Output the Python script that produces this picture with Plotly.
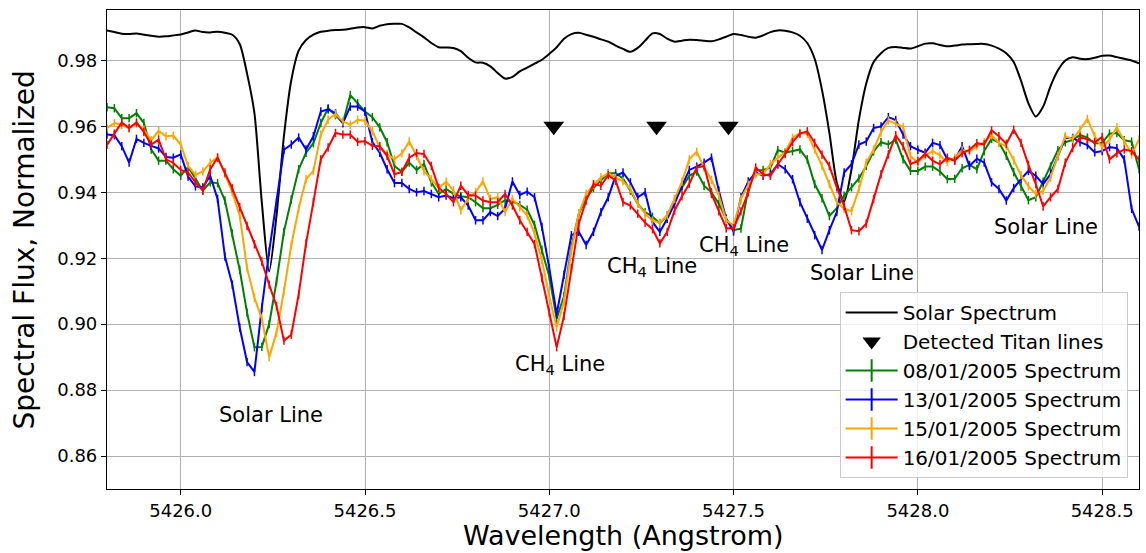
import numpy as np
import plotly.graph_objects as go

# Common wavelength sampling of all spectra (Angstrom)
WAVE_START = 5425.80
WAVE_STEP = 0.02

solar_flux = [
    0.9891, 0.9886, 0.9881, 0.9880, 0.9882, 0.9878, 0.9875, 0.9872, 0.9873, 0.9876,
    0.9879, 0.9885, 0.9891, 0.9886, 0.9885, 0.9887, 0.9884, 0.9878, 0.9850, 0.9760,
    0.9640, 0.9370, 0.9160, 0.9330, 0.9570, 0.9740, 0.9830, 0.9862, 0.9878, 0.9887,
    0.9890, 0.9892, 0.9893, 0.9896, 0.9900, 0.9901, 0.9897, 0.9905, 0.9910, 0.9911,
    0.9911, 0.9900, 0.9885, 0.9870, 0.9853, 0.9840, 0.9839, 0.9838, 0.9828, 0.9808,
    0.9794, 0.9793, 0.9782, 0.9762, 0.9745, 0.9750, 0.9767, 0.9778, 0.9790, 0.9802,
    0.9820, 0.9840, 0.9866, 0.9880, 0.9884, 0.9878, 0.9872, 0.9864, 0.9857, 0.9845,
    0.9835, 0.9826, 0.9838, 0.9860, 0.9882, 0.9880, 0.9866, 0.9857, 0.9860, 0.9863,
    0.9862, 0.9860, 0.9858, 0.9864, 0.9872, 0.9880, 0.9877, 0.9872, 0.9869, 0.9876,
    0.9886, 0.9891, 0.9890, 0.9885, 0.9875, 0.9853, 0.9805, 0.9710, 0.9580, 0.9430,
    0.9372, 0.9470, 0.9620, 0.9730, 0.9795, 0.9822, 0.9838, 0.9841, 0.9838, 0.9836,
    0.9843, 0.9851, 0.9852, 0.9847, 0.9843, 0.9845, 0.9848, 0.9849, 0.9850, 0.9850,
    0.9845, 0.9836, 0.9822, 0.9795, 0.9738, 0.9670, 0.9630, 0.9660, 0.9722, 0.9770,
    0.9800, 0.9810, 0.9805, 0.9804, 0.9808, 0.9814, 0.9815, 0.9810, 0.9805, 0.9800,
    0.9791,
]

flux_2005_01_08 = [
    0.9658, 0.9655, 0.9625, 0.9625, 0.9640, 0.9610, 0.9530, 0.9496, 0.9496, 0.9470,
    0.9450, 0.9477, 0.9442, 0.9405, 0.9430, 0.9428, 0.9375, 0.9275, 0.9165, 0.9035,
    0.8930, 0.8931, 0.9000, 0.9130, 0.9280, 0.9378, 0.9470, 0.9520, 0.9549, 0.9610,
    0.9655, 0.9634, 0.9610, 0.9695, 0.9670, 0.9645, 0.9628, 0.9597, 0.9552, 0.9480,
    0.9462, 0.9490, 0.9468, 0.9486, 0.9430, 0.9395, 0.9410, 0.9395, 0.9388, 0.9385,
    0.9370, 0.9352, 0.9352, 0.9362, 0.9376, 0.9372, 0.9362, 0.9347, 0.9301, 0.9225,
    0.9145, 0.9017, 0.9085, 0.9235, 0.9335, 0.9382, 0.9413, 0.9436, 0.9458, 0.9458,
    0.9442, 0.9405, 0.9365, 0.9340, 0.9326, 0.9306, 0.9330, 0.9378, 0.9412, 0.9450,
    0.9463, 0.9420, 0.9400, 0.9365, 0.9320, 0.9285, 0.9290, 0.9410, 0.9466, 0.9468,
    0.9475, 0.9528, 0.9520, 0.9525, 0.9530, 0.9500, 0.9425, 0.9382, 0.9328, 0.9352,
    0.9390, 0.9415, 0.9442, 0.9480, 0.9524, 0.9552, 0.9545, 0.9560, 0.9500, 0.9465,
    0.9465, 0.9478, 0.9478, 0.9463, 0.9440, 0.9441, 0.9473, 0.9483, 0.9470, 0.9525,
    0.9562, 0.9551, 0.9511, 0.9461, 0.9416, 0.9376, 0.9385, 0.9432, 0.9478, 0.9528,
    0.9552, 0.9559, 0.9574, 0.9566, 0.9548, 0.9550, 0.9578, 0.9580, 0.9558, 0.9554,
    0.9470,
]

flux_2005_01_13 = [
    0.9575, 0.9573, 0.9540, 0.9490, 0.9562, 0.9550, 0.9541, 0.9533, 0.9507, 0.9505,
    0.9515, 0.9448, 0.9418, 0.9415, 0.9450, 0.9380, 0.9205, 0.9120, 0.8990, 0.8885,
    0.8855, 0.9050, 0.9220, 0.9370, 0.9529, 0.9545, 0.9566, 0.9530, 0.9570, 0.9645,
    0.9652, 0.9640, 0.9610, 0.9660, 0.9660, 0.9645, 0.9552, 0.9520, 0.9470, 0.9428,
    0.9428, 0.9410, 0.9400, 0.9404, 0.9395, 0.9385, 0.9390, 0.9382, 0.9385, 0.9360,
    0.9315, 0.9315, 0.9340, 0.9328, 0.9350, 0.9433, 0.9392, 0.9402, 0.9385, 0.9295,
    0.9170, 0.9030, 0.9150, 0.9270, 0.9280, 0.9240, 0.9280, 0.9340, 0.9385, 0.9450,
    0.9460, 0.9430, 0.9385, 0.9400, 0.9310, 0.9280, 0.9320, 0.9365, 0.9420, 0.9468,
    0.9478, 0.9490, 0.9505, 0.9405, 0.9320, 0.9281, 0.9385, 0.9433, 0.9460, 0.9450,
    0.9455, 0.9485, 0.9470, 0.9440, 0.9370, 0.9320, 0.9270, 0.9225, 0.9285, 0.9340,
    0.9460, 0.9485, 0.9545, 0.9554, 0.9595, 0.9600, 0.9628, 0.9619, 0.9575, 0.9540,
    0.9529, 0.9520, 0.9550, 0.9543, 0.9500, 0.9497, 0.9540, 0.9480, 0.9502, 0.9490,
    0.9430, 0.9410, 0.9375, 0.9413, 0.9440, 0.9465, 0.9450, 0.9425, 0.9455, 0.9510,
    0.9565, 0.9565, 0.9552, 0.9543, 0.9521, 0.9525, 0.9537, 0.9534, 0.9500, 0.9350,
    0.9296,
]

flux_2005_01_15 = [
    0.9595, 0.9610, 0.9605, 0.9595, 0.9608, 0.9590, 0.9558, 0.9586, 0.9570, 0.9572,
    0.9545, 0.9480, 0.9453, 0.9463, 0.9490, 0.9506, 0.9455, 0.9400, 0.9330, 0.9170,
    0.9080, 0.9017, 0.8900, 0.8975, 0.9100, 0.9240, 0.9350, 0.9440, 0.9465, 0.9575,
    0.9620, 0.9638, 0.9615, 0.9605, 0.9620, 0.9617, 0.9585, 0.9536, 0.9516, 0.9500,
    0.9518, 0.9554, 0.9510, 0.9464, 0.9440, 0.9413, 0.9432, 0.9405, 0.9345, 0.9382,
    0.9400, 0.9433, 0.9380, 0.9385, 0.9340, 0.9380, 0.9355, 0.9330, 0.9275, 0.9195,
    0.9085, 0.8990, 0.9070, 0.9225, 0.9335, 0.9395, 0.9423, 0.9445, 0.9457, 0.9444,
    0.9433, 0.9410, 0.9365, 0.9335, 0.9314, 0.9308, 0.9330, 0.9380, 0.9432, 0.9500,
    0.9523, 0.9475, 0.9438, 0.9390, 0.9315, 0.9300, 0.9380, 0.9423, 0.9455, 0.9455,
    0.9485, 0.9505, 0.9522, 0.9565, 0.9580, 0.9578, 0.9530, 0.9480, 0.9425, 0.9370,
    0.9350, 0.9343, 0.9410, 0.9490, 0.9530, 0.9582, 0.9618, 0.9608, 0.9598, 0.9510,
    0.9490, 0.9512, 0.9525, 0.9512, 0.9492, 0.9505, 0.9528, 0.9524, 0.9540, 0.9552,
    0.9573, 0.9550, 0.9540, 0.9497, 0.9452, 0.9418, 0.9395, 0.9405, 0.9445, 0.9510,
    0.9570, 0.9562, 0.9590, 0.9623, 0.9570, 0.9536, 0.9560, 0.9597, 0.9555, 0.9515,
    0.9560,
]

flux_2005_01_16 = [
    0.9544, 0.9578, 0.9612, 0.9595, 0.9612, 0.9583, 0.9545, 0.9560, 0.9500, 0.9489,
    0.9468, 0.9460, 0.9430, 0.9405, 0.9470, 0.9505, 0.9460, 0.9412, 0.9355, 0.9298,
    0.9242, 0.9190, 0.9120, 0.9055, 0.8950, 0.8968, 0.9090, 0.9245, 0.9370, 0.9500,
    0.9536, 0.9580, 0.9575, 0.9575, 0.9553, 0.9555, 0.9541, 0.9540, 0.9510, 0.9455,
    0.9462, 0.9505, 0.9519, 0.9516, 0.9480, 0.9413, 0.9395, 0.9370, 0.9420, 0.9392,
    0.9390, 0.9375, 0.9370, 0.9370, 0.9395, 0.9360, 0.9315, 0.9280, 0.9243, 0.9140,
    0.9035, 0.8930, 0.9025, 0.9170, 0.9305, 0.9375, 0.9425, 0.9420, 0.9452, 0.9435,
    0.9370, 0.9360, 0.9335, 0.9308, 0.9288, 0.9245, 0.9280, 0.9345, 0.9388, 0.9426,
    0.9475, 0.9480, 0.9395, 0.9342, 0.9291, 0.9291, 0.9342, 0.9400, 0.9475, 0.9455,
    0.9450, 0.9485, 0.9516, 0.9552, 0.9578, 0.9585, 0.9550, 0.9514, 0.9480, 0.9415,
    0.9358, 0.9285, 0.9282, 0.9305, 0.9380, 0.9455, 0.9515, 0.9573, 0.9540, 0.9485,
    0.9495, 0.9517, 0.9496, 0.9485, 0.9505, 0.9496, 0.9518, 0.9529, 0.9549, 0.9545,
    0.9588, 0.9570, 0.9547, 0.9590, 0.9550, 0.9483, 0.9425, 0.9357, 0.9385, 0.9410,
    0.9490, 0.9534, 0.9568, 0.9560, 0.9552, 0.9568, 0.9500, 0.9518, 0.9530, 0.9525,
    0.9499,
]

spectrum_names = ["08/01/2005 Spectrum", "13/01/2005 Spectrum",
                  "15/01/2005 Spectrum", "16/01/2005 Spectrum"]
spectrum_colors = ["#008000", "#0000ff", "#ffa500", "#ff0000"]

# Detected Titan CH4 lines
titan_wavelengths = [5427.012, 5427.291, 5427.486]
titan_marker_flux = [0.96, 0.96, 0.96]

# Line identifications written on the plot
label_texts = ["Solar Line", "CH<sub>4</sub> Line", "CH<sub>4</sub> Line",
               "CH<sub>4</sub> Line", "Solar Line", "Solar Line"]
label_wavelengths = [5426.245, 5427.028, 5427.279, 5427.529, 5427.848, 5428.349]
label_flux = [0.8723, 0.8876, 0.9174, 0.9236, 0.9154, 0.9294]

x_ticks = [5426.0, 5426.5, 5427.0, 5427.5, 5428.0, 5428.5]
y_ticks = [0.86, 0.88, 0.90, 0.92, 0.94, 0.96, 0.98]

wavelength = np.round(WAVE_START + WAVE_STEP * np.arange(len(solar_flux)), 2)
spectra = [flux_2005_01_08, flux_2005_01_13, flux_2005_01_15, flux_2005_01_16]

FONT = "DejaVu Sans"
fig = go.Figure()

fig.add_trace(go.Scatter(
    x=wavelength, y=solar_flux, mode="lines", name="Solar Spectrum",
    line=dict(color="black", width=2, shape="spline", smoothing=0.7),
))
fig.add_trace(go.Scatter(
    x=titan_wavelengths, y=titan_marker_flux, mode="markers",
    name="Detected Titan lines",
    marker=dict(symbol="triangle-down", size=18, color="black"),
))

# legend entries (line with an error-bar tick)
for name, color in zip(spectrum_names, spectrum_colors):
    fig.add_trace(go.Scatter(
        x=[None], y=[None], mode="lines+markers", name=name,
        line=dict(color=color, width=2),
        marker=dict(symbol="line-ns-open", size=16, color=color,
                    line=dict(width=2, color=color)),
    ))

# the observed spectra, one tick per sample
for name, color, flux in zip(spectrum_names, spectrum_colors, spectra):
    fig.add_trace(go.Scatter(
        x=wavelength, y=flux, mode="lines+markers", name=name,
        showlegend=False,
        line=dict(color=color, width=2),
        marker=dict(symbol="line-ns-open", size=6, color=color,
                    line=dict(width=1.5, color=color)),
    ))

for text, xv, yv in zip(label_texts, label_wavelengths, label_flux):
    fig.add_annotation(x=xv, y=yv, xref="x", yref="y", text=text,
                       showarrow=False, xanchor="center", yanchor="middle",
                       font=dict(family=FONT, size=21, color="black"))

fig.add_annotation(text="Wavelength (Angstrom)", xref="paper", yref="paper",
                   x=0.5, y=-0.097, xanchor="center", yanchor="middle",
                   showarrow=False, font=dict(family=FONT, size=27, color="black"))
fig.add_annotation(text="Spectral Flux, Normalized", xref="paper", yref="paper",
                   x=-0.0795, y=0.5, xanchor="center", yanchor="middle",
                   textangle=-90, showarrow=False,
                   font=dict(family=FONT, size=28, color="black"))

axis_style = dict(
    showgrid=True, gridcolor="#b0b0b0", gridwidth=1.2,
    showline=True, mirror=True, linecolor="black", linewidth=1.2,
    ticks="outside", ticklen=5, tickwidth=1.2, tickcolor="black",
    tickfont=dict(family=FONT, size=18, color="black"),
    zeroline=False,
)

fig.update_layout(
    width=1146, height=553,
    margin=dict(l=107, r=7, t=10, b=64),
    paper_bgcolor="white", plot_bgcolor="white",
    font=dict(family=FONT, color="black"),
    xaxis=dict(range=[5425.8, 5428.6], tickvals=x_ticks,
               ticktext=[f"{v:.1f}" for v in x_ticks], **axis_style),
    yaxis=dict(range=[0.85, 0.9953], tickvals=y_ticks,
               ticktext=[f"{v:.2f}" for v in y_ticks], **axis_style),
    legend=dict(x=0.989, y=0.023, xanchor="right", yanchor="bottom",
                bgcolor="rgba(255,255,255,0.8)", bordercolor="#cccccc",
                borderwidth=1, font=dict(family=FONT, size=20, color="black"),
                itemwidth=52, tracegroupgap=0),
    showlegend=True,
)

fig.write_html("out.html")
